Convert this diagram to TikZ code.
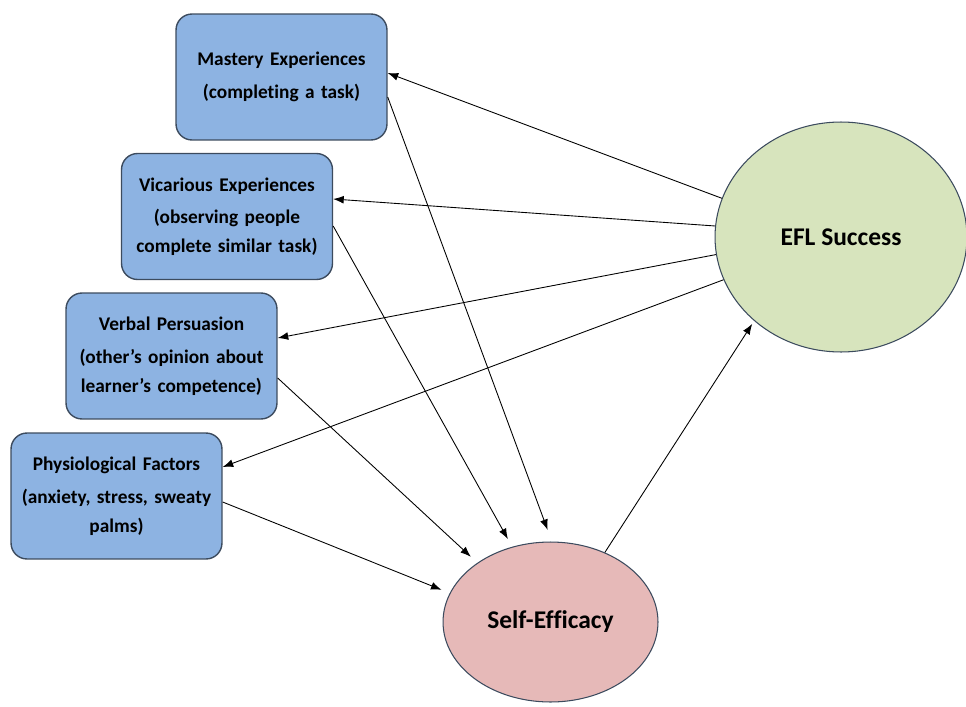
\documentclass[tikz,border=0pt]{standalone}
\usepackage{fontspec}
\setmainfont{Carlito}[Ligatures=NoCommon]
\usetikzlibrary{arrows.meta,shapes.geometric}

\definecolor{boxblue}{HTML}{8DB3E2}
\definecolor{boxline}{HTML}{3C4B5E}
\definecolor{eflgreen}{HTML}{D7E4BD}
\definecolor{sepink}{HTML}{E6B9B8}

\tikzset{factor/.style = {shape = rectangle,
                          rounded corners = 0.32cm,
                          fill = boxblue,
                          draw = boxline,
                          line width = 0.8pt,
                          inner xsep = 0pt,
                          minimum width = 4.22cm,
                          minimum height = 2.52cm,
                          text width = 4.22cm,
                          align = center,
                          font = \fontsize{11}{16.5}\selectfont\bfseries},
         goal/.style = {shape = ellipse,
                        draw = boxline,
                        line width = 0.6pt,
                        inner sep = 0pt,
                        font = \fontsize{14.5}{17}\selectfont\bfseries},
         link/.style = {-{Latex[length=6pt,width=4.5pt]},
                        line width = 0.5pt,
                        black}}

\begin{document}
\begin{tikzpicture}[x=0.02cm,y=-0.02cm]
		\useasboundingbox (0,0) rectangle (966,706);
		\clip (0,0) rectangle (966,706);
		\node[factor] (mastery) at (281.5,77) {Mastery Experiences\\[2pt](completing a task)};
		\node[factor] (vicarious) at (227,216.5) {Vicarious Experiences\\[2pt](observing people\\complete similar task)};
		\node[factor] (verbal) at (171.5,356) {Verbal Persuasion\\[2pt](other's opinion about\\learner's competence)};
		\node[factor] (physio) at (116.5,496) {Physiological Factors\\[2pt](anxiety, stress, sweaty\\palms)};
		\node[goal, fill = eflgreen, minimum width = 5.04cm, minimum height = 4.6cm] (efl) at (841,237) {EFL Success};
		\node[goal, fill = sepink, minimum width = 4.3cm, minimum height = 3.2cm] (se) at (550.5,622) {Self-Efficacy};
		% success feeds back into the four sources
		\path[link] (efl.162) edge ([yshift=0.08cm]mastery.east);
		\path[link] (efl.175) edge ([yshift=0.35cm]vicarious.east);
		\path[link] (efl.188) edge ([yshift=0.36cm]verbal.east);
		\path[link] (efl.200) edge ([yshift=0.58cm]physio.east);
		% sources build self-efficacy
		\path[link, shorten > = 7pt] ([yshift=-0.4cm]mastery.east) edge (se.89);
		\path[link, shorten > = 5pt] ([yshift=-0.19cm]vicarious.east) edge (se.117);
		\path[link, shorten > = 5pt] ([yshift=-0.44cm]verbal.east) edge (se.141);
		\path[link, shorten > = 5pt] ([yshift=-0.12cm]physio.east) edge (se.164);
		\path[link, shorten > = 2pt] (se.52) edge (efl.224);
	\end{tikzpicture}
\end{document}
